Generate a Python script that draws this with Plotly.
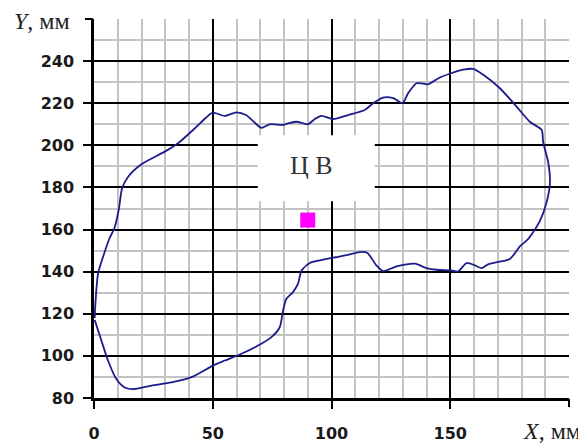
import plotly.graph_objects as go

# Contour of the foot-print (mm), traced clockwise from the left edge
contour_x = [0.3, 0.6, 1.7, 3.8, 6.6, 8.7, 10.5, 11.8, 14.3, 20.0, 29.8, 35.4, 42.4, 47.0, 50.0,
             55.0, 60.0, 64.0, 67.0, 70.5, 74.0, 79.6, 82.0, 85.3, 90.0, 93.0, 95.8, 100.7, 107.0,
             114.0, 117.5, 121.7, 126.0, 129.9, 132.3, 135.8, 138.5, 140.7, 145.6, 149.8, 155.4,
             159.6, 163.9, 170.9, 177.9, 183.5, 188.5, 189.1, 191.2, 192.0, 190.6, 187.7, 182.8,
             179.3, 175.1, 170.2, 166.0, 163.2, 160.4, 156.9, 153.3, 150.5, 144.2, 140.0, 135.1,
             127.4, 121.7, 118.9, 115.0, 111.9, 106.3, 102.8, 100.7, 95.1, 90.9, 87.4, 85.9, 83.8,
             81.0, 79.6, 78.2, 74.7, 69.1, 62.1, 55.1, 50.1, 41.0, 32.6, 24.2, 16.4, 12.9, 9.4,
             5.9, 3.1, 0.3]
contour_y = [118.0, 125.0, 139.0, 147.0, 156.0, 161.0, 170.0, 179.5, 185.0, 191.0, 197.0, 201.0,
             208.0, 213.0, 215.5, 214.0, 215.7, 214.4, 211.5, 208.3, 210.0, 209.7, 210.5, 211.2,
             210.0, 212.5, 214.0, 212.5, 214.4, 216.8, 220.0, 222.7, 222.4, 220.0, 224.8, 229.5,
             229.3, 229.0, 232.2, 234.0, 235.9, 236.3, 233.5, 227.1, 218.4, 211.2, 207.3, 201.7,
             192.2, 182.6, 173.1, 164.0, 155.5, 152.0, 146.0, 144.6, 143.5, 141.7, 143.0, 144.1,
             140.1, 140.6, 140.9, 141.7, 143.8, 142.5, 140.3, 143.0, 149.0, 149.3, 147.8, 147.0,
             146.7, 145.4, 144.1, 140.6, 134.3, 130.3, 127.1, 121.6, 113.6, 108.9, 104.9, 101.0,
             97.8, 95.4, 89.9, 87.4, 85.9, 84.2, 85.0, 89.0, 97.8, 107.3, 117.0]

# Centre of weight point
cv_x = [90.0]
cv_y = [164.5]
cv_label = "Ц В"
cv_label_x = 91.7
cv_label_y = 190.5

# Axes
x_range = [0, 200]
y_range = [80, 260]
x_ticks = [0, 50, 100, 150]
y_ticks = [80, 100, 120, 140, 160, 180, 200, 220, 240]
x_title = "<i>X</i>, мм"
y_title = "<i>Y</i>, мм"

fig = go.Figure()
fig.add_trace(go.Scatter(
    x=contour_x, y=contour_y, mode="lines",
    line=dict(color="#1c1c8a", width=1.8, shape="spline", smoothing=0.7),
    hoverinfo="skip", showlegend=False))
fig.add_trace(go.Scatter(
    x=cv_x, y=cv_y, mode="markers",
    marker=dict(symbol="square", size=15, color="#ff00ff", line=dict(width=0)),
    showlegend=False))
# invisible trace to activate the end-tick overlay axes
fig.add_trace(go.Scatter(x=[x_range[1]], y=[y_range[1]], xaxis="x2", yaxis="y2",
                         mode="markers", marker=dict(opacity=0), hoverinfo="skip",
                         showlegend=False))

tick_font = dict(family="DejaVu Sans, Arial", size=16, color="#1a1a1a")
title_font = dict(family="Liberation Serif, Times New Roman", size=24, color="#222222")

# the page body adds an 8 px margin, so the figure is 8 px smaller on each side
fig.update_layout(
    width=578, height=438,
    margin=dict(l=86, r=17, t=11, b=48, autoexpand=False),
    paper_bgcolor="white", plot_bgcolor="white",
    xaxis=dict(range=x_range, tickvals=x_ticks, ticktext=[f"<b>{v}</b>" for v in x_ticks],
               showgrid=True, gridcolor="black", gridwidth=2,
               minor=dict(dtick=10, showgrid=True, gridcolor="#c3c3c3", gridwidth=2, ticks=""),
               showline=True, linecolor="black", linewidth=2.5,
               ticks="outside", ticklen=8, tickwidth=2, tickcolor="black",
               tickfont=tick_font, ticklabelstandoff=11, zeroline=False, fixedrange=True,
               automargin=False),
    yaxis=dict(range=y_range, tickvals=y_ticks, ticktext=[f"<b>{v}</b>" for v in y_ticks],
               showgrid=True, gridcolor="black", gridwidth=2,
               minor=dict(dtick=10, showgrid=True, gridcolor="#c3c3c3", gridwidth=2, ticks=""),
               showline=True, linecolor="black", linewidth=2.5,
               ticks="outside", ticklen=8, tickwidth=2, tickcolor="black",
               tickfont=tick_font, ticklabelstandoff=6, zeroline=False, fixedrange=True,
               automargin=False),
    xaxis2=dict(range=x_range, overlaying="x", anchor="y", side="bottom",
                tickvals=[x_range[1]], ticks="outside", ticklen=8, tickwidth=2,
                tickcolor="black", showticklabels=False, showgrid=False,
                showline=False, zeroline=False, fixedrange=True, automargin=False),
    yaxis2=dict(range=y_range, overlaying="y", anchor="x", side="left",
                tickvals=[y_range[1]], ticks="outside", ticklen=8, tickwidth=2,
                tickcolor="black", showticklabels=False, showgrid=False,
                showline=False, zeroline=False, fixedrange=True, automargin=False),
    showlegend=False,
)

# white label box behind "Ц В"
fig.add_shape(type="rect", xref="x", yref="y", layer="above",
              xsizemode="pixel", ysizemode="pixel",
              xanchor=cv_label_x, yanchor=cv_label_y,
              x0=-54, x1=63, y0=-36, y1=30,
              fillcolor="white", line=dict(width=0))
fig.add_annotation(x=cv_label_x, y=cv_label_y, xref="x", yref="y", text=cv_label,
                   showarrow=False,
                   font=dict(family="Liberation Serif, Times New Roman", size=26, color="#333333"))

fig.add_annotation(x=-0.047, y=0.9955, xref="paper", yref="paper", text=y_title,
                   xanchor="right", yanchor="middle", showarrow=False, font=title_font)
fig.add_annotation(x=1.0295, y=-0.0863, xref="paper", yref="paper", text=x_title,
                   xanchor="right", yanchor="middle", showarrow=False, font=title_font)

fig.write_html("out.html")
